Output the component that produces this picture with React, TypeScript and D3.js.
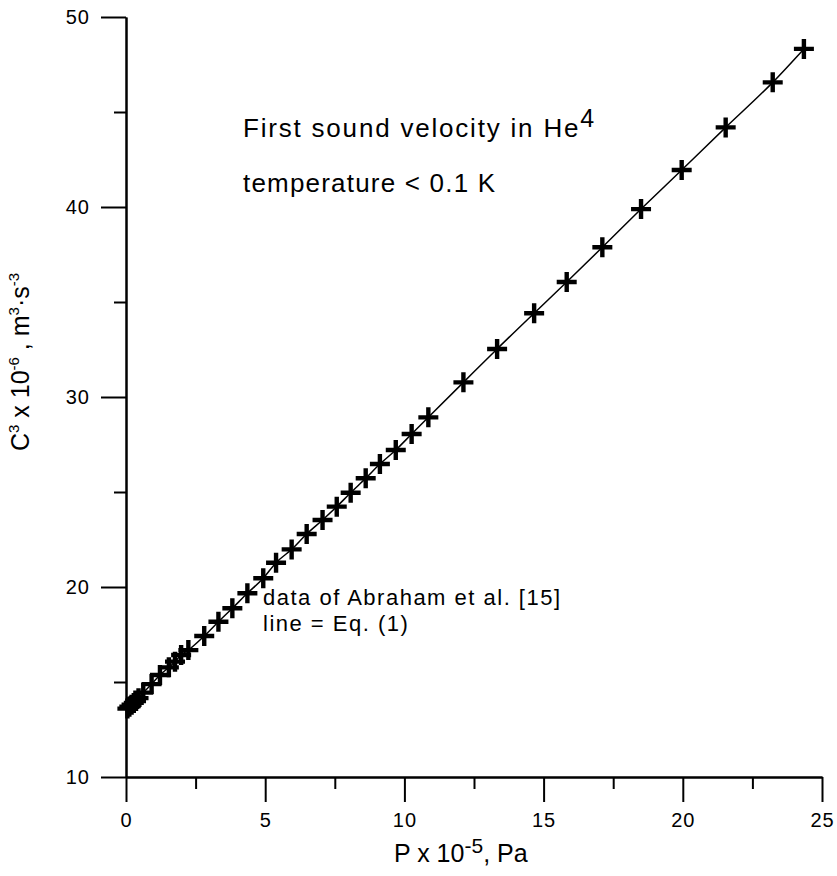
import React, { useEffect, useRef } from "react";
import * as d3 from "d3";

const pressure = [0.05, 0.12, 0.2, 0.28, 0.36, 0.45, 0.62, 0.92, 1.22, 1.54, 1.76, 1.98, 2.24, 2.81, 3.32, 3.82, 4.36, 4.93, 5.39, 5.95, 6.49, 7.06, 7.57, 8.07, 8.61, 9.12, 9.69, 10.26, 10.86, 12.12, 13.33, 14.66, 15.83, 17.11, 18.5, 19.96, 21.54, 23.23, 24.35];
const c3 = [13.6, 13.7, 13.8, 13.9, 14.0, 14.15, 14.44, 14.89, 15.37, 15.77, 16.07, 16.42, 16.68, 17.42, 18.17, 18.88, 19.67, 20.46, 21.28, 21.98, 22.79, 23.53, 24.23, 24.96, 25.72, 26.47, 27.21, 28.05, 28.93, 30.77, 32.53, 34.41, 36.05, 37.88, 39.89, 41.95, 44.19, 46.56, 48.32];

const xMajor = [0, 5, 10, 15, 20, 25];
const xMinor = [2.5, 7.5, 12.5, 17.5, 22.5];
const yMajor = [10, 20, 30, 40, 50];
const yMinor = [15, 25, 35, 45];

const W = 837;
const H = 876;
const FONT = "'Liberation Sans', Arial, sans-serif";

export default function App() {
  const ref = useRef<SVGGElement>(null);

  useEffect(() => {
    const svg = d3.select(ref.current);
    svg.selectAll("*").remove();

    const x = d3.scaleLinear().domain([0, 25]).range([126, 822]);
    const y = d3.scaleLinear().domain([10, 50]).range([777, 17]);

    const styleAxis = (g: any) => {
      g.attr("font-size", null).attr("font-family", null);
      g.select(".domain").attr("stroke", "#000").attr("stroke-width", 2);
      g.selectAll(".tick line").attr("stroke", "#000").attr("stroke-width", 2);
      g.selectAll(".tick text")
        .attr("fill", "#000")
        .style("font-family", FONT)
        .style("font-size", "20px")
        .style("letter-spacing", "1px");
    };

    svg.append("g")
      .attr("transform", `translate(0,${y(10)})`)
      .call(d3.axisBottom(x).tickValues(xMinor).tickSize(12).tickSizeOuter(0).tickFormat(() => ""))
      .call(styleAxis);
    svg.append("g")
      .attr("transform", `translate(${x(0)},0)`)
      .call(d3.axisLeft(y).tickValues(yMinor).tickSize(12).tickSizeOuter(0).tickFormat(() => ""))
      .call(styleAxis);

    svg.append("g")
      .attr("transform", `translate(0,${y(10)})`)
      .call(d3.axisBottom(x).tickValues(xMajor).tickSize(25).tickSizeOuter(0).tickPadding(11).tickFormat(d3.format("d")))
      .call(styleAxis);
    svg.append("g")
      .attr("transform", `translate(${x(0)},0)`)
      .call(d3.axisLeft(y).tickValues(yMajor).tickSize(25).tickSizeOuter(0).tickPadding(11).tickFormat(d3.format("d")))
      .call(styleAxis);

    const pts = pressure.map((p, i) => [p, c3[i]] as [number, number]);

    const line = d3.line<[number, number]>()
      .x((d) => x(d[0]))
      .y((d) => y(d[1]))
      .curve(d3.curveMonotoneX);
    svg.append("path")
      .datum(pts)
      .attr("d", line)
      .attr("fill", "none")
      .attr("stroke", "#000")
      .attr("stroke-width", 1.5);

    svg.append("g")
      .selectAll("path")
      .data(pts)
      .join("path")
      .attr("transform", (d) => `translate(${x(d[0])},${y(d[1])})`)
      .attr("d", "M-10,0H10M0,-10V10")
      .attr("stroke", "#000")
      .attr("stroke-width", 4.4)
      .attr("fill", "none");
  }, []);

  return (
    <svg
      width={W}
      height={H}
      style={{ position: "absolute", left: 0, top: 0, background: "#fff" }}
      fontFamily={FONT}
    >
      <g ref={ref} />
      <text x={243} y={137} fontSize={26} letterSpacing={1.8} fill="#000">
        First sound velocity in He
        <tspan dy={-10} fontSize={25}>4</tspan>
      </text>
      <text x={243} y={192} fontSize={26} letterSpacing={1.2} fill="#000">
        temperature &lt; 0.1 K
      </text>
      <text x={263} y={605} fontSize={22} letterSpacing={1.5} fill="#000">
        data of Abraham et al. [15]
      </text>
      <text x={263} y={631} fontSize={22} letterSpacing={1.5} fill="#000">
        line = Eq. (1)
      </text>
      <text x={394} y={862} fontSize={25} fill="#000">
        P x 10
        <tspan dy={-9} fontSize={21}>-5</tspan>
        <tspan dy={9}>, Pa</tspan>
      </text>
      <text
        transform="translate(29,362) rotate(-90)"
        textAnchor="middle"
        fontSize={25}
        fill="#000"
      >
        C<tspan dy={-10} fontSize={15}>3</tspan>
        <tspan dy={10}> x 10</tspan>
        <tspan dy={-10} fontSize={15}>-6</tspan>
        <tspan dy={10}> , m</tspan>
        <tspan dy={-10} fontSize={15}>3</tspan>
        <tspan dy={10}>·s</tspan>
        <tspan dy={-10} fontSize={15}>-3</tspan>
      </text>
    </svg>
  );
}
